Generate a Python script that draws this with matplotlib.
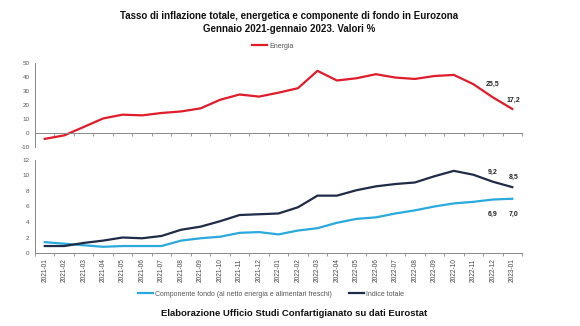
import matplotlib
matplotlib.use("Agg")
import matplotlib.pyplot as plt
import numpy as np

mesi = [
    "2021-01", "2021-02", "2021-03", "2021-04", "2021-05", "2021-06", "2021-07",
    "2021-08", "2021-09", "2021-10", "2021-11", "2021-12", "2022-01", "2022-02",
    "2022-03", "2022-04", "2022-05", "2022-06", "2022-07", "2022-08", "2022-09",
    "2022-10", "2022-11", "2022-12", "2023-01",
]
energia = [-4.2, -1.7, 4.3, 10.4, 13.1, 12.6, 14.3, 15.4, 17.6, 23.7, 27.5, 26.0,
           28.8, 32.0, 44.4, 37.5, 39.1, 42.0, 39.6, 38.6, 40.7, 41.5, 34.9, 25.5, 17.2]
fondo = [1.4, 1.2, 1.0, 0.8, 0.9, 0.9, 0.9, 1.6, 1.9, 2.1, 2.6, 2.7,
         2.4, 2.9, 3.2, 3.9, 4.4, 4.6, 5.1, 5.5, 6.0, 6.4, 6.6, 6.9, 7.0]
totale = [0.9, 0.9, 1.3, 1.6, 2.0, 1.9, 2.2, 3.0, 3.4, 4.1, 4.9, 5.0,
          5.1, 5.9, 7.4, 7.4, 8.1, 8.6, 8.9, 9.1, 9.9, 10.6, 10.1, 9.2, 8.5]

ROSSO = "#e01b2a"
CIANO = "#2aa9dc"
BLU = "#1f2b47"
GRIGIO = "#555555"

plt.rcParams["font.family"] = ["Liberation Sans", "DejaVu Sans"]
plt.rcParams["axes.unicode_minus"] = False

fig = plt.figure(figsize=(5.8, 3.26), dpi=100)
W, H = 580, 326
x = np.arange(len(mesi))


def assi(ax):
    ax.set_xlim(-0.5, len(mesi) - 0.5)
    for s in ["top", "right"]:
        ax.spines[s].set_visible(False)
    ax.spines["left"].set_color("#888888")
    ax.spines["left"].set_linewidth(0.7)
    ax.spines["bottom"].set_color("#888888")
    ax.spines["bottom"].set_linewidth(0.7)
    ax.spines["bottom"].set_position(("data", 0))
    ax.tick_params(axis="y", labelsize=4.5, labelcolor=GRIGIO, length=0, pad=4)
    ax.set_xticks(np.arange(-0.5, len(mesi) + 0.5, 1), minor=True)
    ax.tick_params(axis="x", which="minor", length=2.5, direction="out", color="#888888")
    ax.tick_params(axis="x", which="major", length=0)


# pannello energia
ax1 = fig.add_axes([35 / W, 1 - 147 / H, 487 / W, 84 / H])
assi(ax1)
ax1.plot(x, energia, color=ROSSO, lw=1.6, label="Energia")
ax1.set_ylim(-10, 50)
ax1.set_yticks(np.arange(-10, 51, 10))
ax1.set_xticks(x)
ax1.set_xticklabels([])
ax1.annotate("25,5", (x[-2], energia[-2]), xytext=(0, 8), textcoords="offset points",
             ha="center", fontsize=5, fontweight="bold", color="#222222")
ax1.annotate("17,2", (x[-1], energia[-1]), xytext=(1, 5), textcoords="offset points",
             ha="center", fontsize=5, fontweight="bold", color="#222222")
ax1.legend(loc="center", bbox_to_anchor=(273 / W, 1 - 46 / H), bbox_transform=fig.transFigure,
           frameon=False, fontsize=5, handlelength=2.2, handletextpad=0.3, labelcolor=GRIGIO)

# pannello totale e fondo
ax2 = fig.add_axes([35 / W, 1 - 253 / H, 487 / W, 93 / H])
assi(ax2)
ax2.plot(x, fondo, color=CIANO, lw=1.6, label="Componente fondo (al netto energia e alimentari freschi)")
ax2.plot(x, totale, color=BLU, lw=1.6, label="Indice totale")
ax2.set_ylim(0, 12)
ax2.set_yticks(np.arange(0, 13, 2))
ax2.set_xticks(x)
ax2.set_xticklabels(mesi, rotation=90, fontsize=4.7, color="#444444")
ax2.tick_params(axis="x", which="major", pad=4)
ax2.annotate("9,2", (x[-2], totale[-2]), xytext=(0, 6), textcoords="offset points",
             ha="center", fontsize=5, fontweight="bold", color="#222222")
ax2.annotate("8,5", (x[-1], totale[-1]), xytext=(1, 6), textcoords="offset points",
             ha="center", fontsize=5, fontweight="bold", color="#222222")
ax2.annotate("6,9", (x[-2], fondo[-2]), xytext=(0, -12), textcoords="offset points",
             ha="center", fontsize=5, fontweight="bold", color="#222222")
ax2.annotate("7,0", (x[-1], fondo[-1]), xytext=(1, -12), textcoords="offset points",
             ha="center", fontsize=5, fontweight="bold", color="#222222")
ax2.legend(loc="center", bbox_to_anchor=(271 / W, 1 - 294 / H), bbox_transform=fig.transFigure,
           ncol=2, frameon=False, fontsize=5, handlelength=2.2, handletextpad=0.3,
           columnspacing=2.5, labelcolor=GRIGIO)

fig.text(289 / W, 1 - 16 / H, "Tasso di inflazione totale, energetica e componente di fondo in Eurozona",
         ha="center", va="center", fontsize=7, fontweight="bold", color="#111111")
fig.text(289 / W, 1 - 29 / H, "Gennaio 2021-gennaio 2023. Valori %",
         ha="center", va="center", fontsize=7, fontweight="bold", color="#111111")
fig.text(294 / W, 1 - 313 / H, "Elaborazione Ufficio Studi Confartigianato su dati Eurostat",
         ha="center", va="center", fontsize=6.8, fontweight="bold", color="#111111")

fig.savefig("out.png", dpi=100)
